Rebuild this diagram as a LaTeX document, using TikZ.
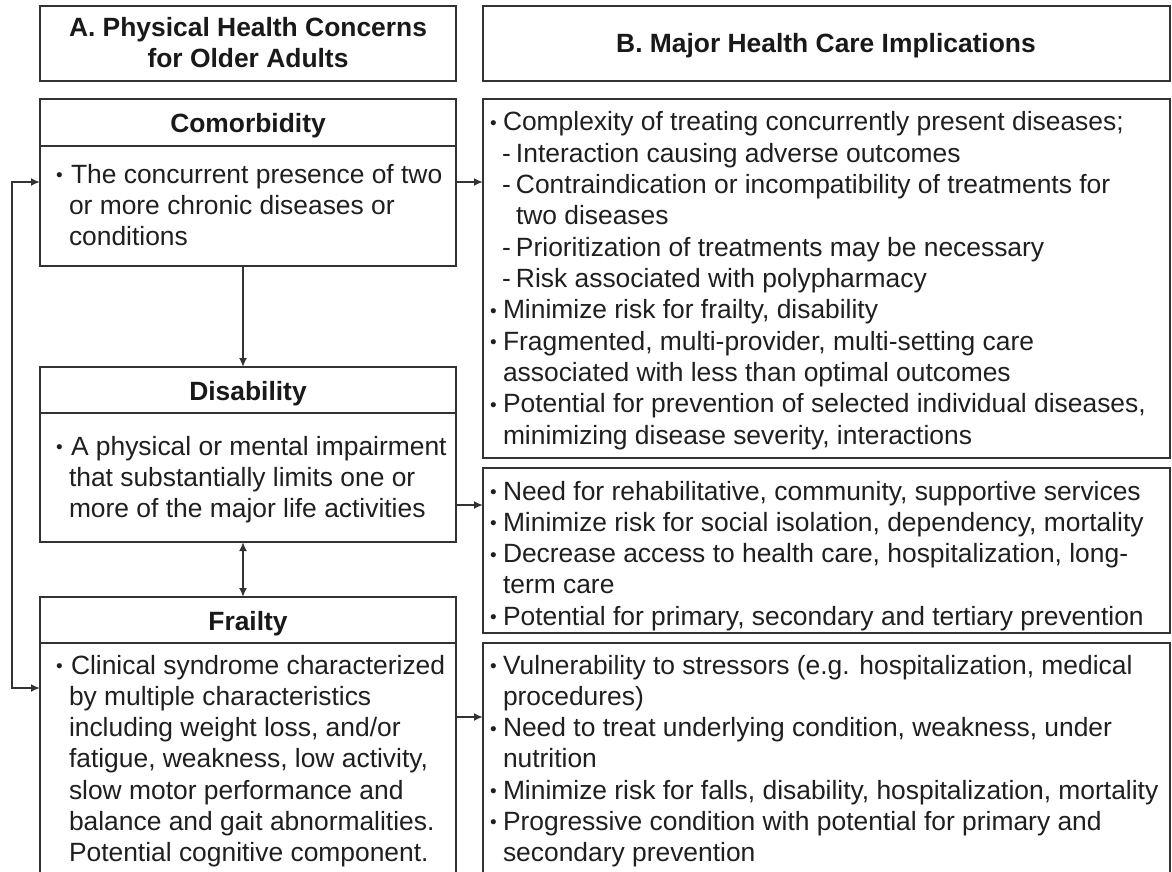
\documentclass[tikz,border=0pt]{standalone}
\usepackage{fontspec}
\usepackage{graphicx}
\setmainfont{Liberation Sans}
\usetikzlibrary{arrows.meta}
\newcommand{\bulA}{\makebox[16pt][l]{\hspace{1pt}\raisebox{0.06em}{\scalebox{0.72}{\textbullet}}}}
\newcommand{\bulB}{\makebox[13pt][l]{\hspace{0pt}\raisebox{0.06em}{\scalebox{0.72}{\textbullet}}}}
\newcommand{\dshB}{\hspace{12pt}\makebox[14pt][l]{-}}
\newcommand{\txtsetup}{\setlength{\parindent}{0pt}\setlength{\parskip}{0pt}\fontsize{26.4pt}{31.3pt}\selectfont\raggedright}
\newenvironment{itA}{\par\hangindent=14pt\hangafter=1\bulA}{\par}
\newenvironment{itB}{\par\hangindent=13pt\hangafter=1\bulB}{\par}
\newenvironment{itD}{\par\hangindent=26pt\hangafter=1\dshB}{\par}
\begin{document}
\begin{tikzpicture}[x=1pt,y=-1pt,
  box/.style={draw=black!80, line width=2.2pt, rectangle, inner sep=0pt, outer sep=0pt, anchor=north west},
  txt/.style={inner sep=0pt, outer sep=0pt, anchor=base west, text=black!88},
  ttl/.style={inner sep=0pt, outer sep=0pt, anchor=base, text=black!90, font=\fontsize{26.4pt}{31pt}\selectfont\bfseries},
  conn/.style={draw=black!80, line width=2.2pt, -{Latex[length=9pt,width=8pt]}},
  dconn/.style={draw=black!80, line width=2.2pt, {Latex[length=9pt,width=8pt]}-{Latex[length=9pt,width=8pt]}}]
\useasboundingbox (0,0) rectangle (1172,872);
\clip (0,0) rectangle (1172,872);
\fill[white] (0,0) rectangle (1172,872);

% column headers
\node[box, minimum width=416pt, minimum height=75pt] (hA) at (40,6) {};
\node[box, minimum width=687pt, minimum height=75pt] (hB) at (483,6) {};
\node[ttl] (hAt) at (248,37) {\parbox[t]{416pt}{\centering A. Physical Health Concerns\\ for Older Adults}};
\node[ttl] (hBt) at (826,53) {B. Major Health Care Implications};

% column A boxes
\node[box, minimum width=416pt, minimum height=47pt] (ct) at (40,99) {};
\node[box, minimum width=416pt, minimum height=120pt] (cb) at (40,146) {};
\node[box, minimum width=416pt, minimum height=46pt] (dt) at (40,367) {};
\node[box, minimum width=416pt, minimum height=129pt] (db) at (40,413) {};
\node[box, minimum width=416pt, minimum height=46pt] (ft) at (40,597) {};
\node[box, minimum width=416pt, minimum height=240pt] (fb) at (40,643) {};

\node[ttl] (ctt) at (248,132) {Comorbidity};
\node[ttl] (dtt) at (248,400) {Disability};
\node[ttl] (ftt) at (248,630) {Frailty};

\node[txt] (cbt) at (55,183) {\parbox[t]{420pt}{\txtsetup
\begin{itA}The concurrent presence of two\newline or more chronic diseases or\newline conditions\end{itA}}};
\node[txt] (dbt) at (55,455) {\parbox[t]{420pt}{\txtsetup
\begin{itA}A physical or mental impairment\newline that substantially limits one or\newline more of the major life activities\end{itA}}};
\node[txt] (fbt) at (55,674) {\parbox[t]{420pt}{\txtsetup
\begin{itA}Clinical syndrome characterized\newline by multiple characteristics\newline including weight loss, and/or\newline fatigue, weakness, low activity,\newline slow motor performance and\newline balance and gait abnormalities.\newline Potential cognitive component.\end{itA}}};

% column B boxes
\node[box, minimum width=687pt, minimum height=359pt] (b1) at (483,99) {};
\node[box, minimum width=687pt, minimum height=165pt] (b2) at (483,468) {};
\node[box, minimum width=687pt, minimum height=240pt] (b3) at (483,643) {};

\node[txt] (b1t) at (490,131) {\parbox[t]{700pt}{\txtsetup
\begin{itB}Complexity of treating concurrently present diseases;\end{itB}
\begin{itD}Interaction causing adverse outcomes\end{itD}
\begin{itD}Contraindication or incompatibility of treatments for\newline two diseases\end{itD}
\begin{itD}Prioritization of treatments may be necessary\end{itD}
\begin{itD}Risk associated with polypharmacy\end{itD}
\begin{itB}Minimize risk for frailty, disability\end{itB}
\begin{itB}Fragmented, multi-provider, multi-setting care\newline associated with less than optimal outcomes\end{itB}
\begin{itB}Potential for prevention of selected individual diseases,\newline minimizing disease severity, interactions\end{itB}}};
\node[txt] (b2t) at (490,500) {\parbox[t]{700pt}{\txtsetup
\begin{itB}Need for rehabilitative, community, supportive services\end{itB}
\begin{itB}Minimize risk for social isolation, dependency, mortality\end{itB}
\begin{itB}Decrease access to health care, hospitalization, long-\newline term care\end{itB}
\begin{itB}Potential for primary, secondary and tertiary prevention\end{itB}}};
\node[txt] (b3t) at (490,674) {\parbox[t]{700pt}{\txtsetup
\begin{itB}Vulnerability to stressors (e.g. hospitalization, medical\newline procedures)\end{itB}
\begin{itB}Need to treat underlying condition, weakness, under\newline nutrition\end{itB}
\begin{itB}Minimize risk for falls, disability, hospitalization, mortality\end{itB}
\begin{itB}Progressive condition with potential for primary and\newline secondary prevention\end{itB}}};

% helper coordinates
\coordinate (lx) at (12,0);
\coordinate (vx) at (243,0);
\coordinate (yc) at (0,182);
\coordinate (yd) at (0,505);
\coordinate (yf) at (0,688);
\coordinate (yg) at (0,717);

% connectors
\draw[dconn] (cb.west |- yc) -- (lx |- yc) -- (lx |- yf) -- (fb.west |- yf);
\draw[conn] (cb.east |- yc) -- (b1.west |- yc);
\draw[conn] (db.east |- yd) -- (b2.west |- yd);
\draw[conn] (fb.east |- yg) -- (b3.west |- yg);
\draw[conn] (cb.south -| vx) -- (dt.north -| vx);
\draw[dconn] (db.south -| vx) -- (ft.north -| vx);
\end{tikzpicture}
\end{document}
